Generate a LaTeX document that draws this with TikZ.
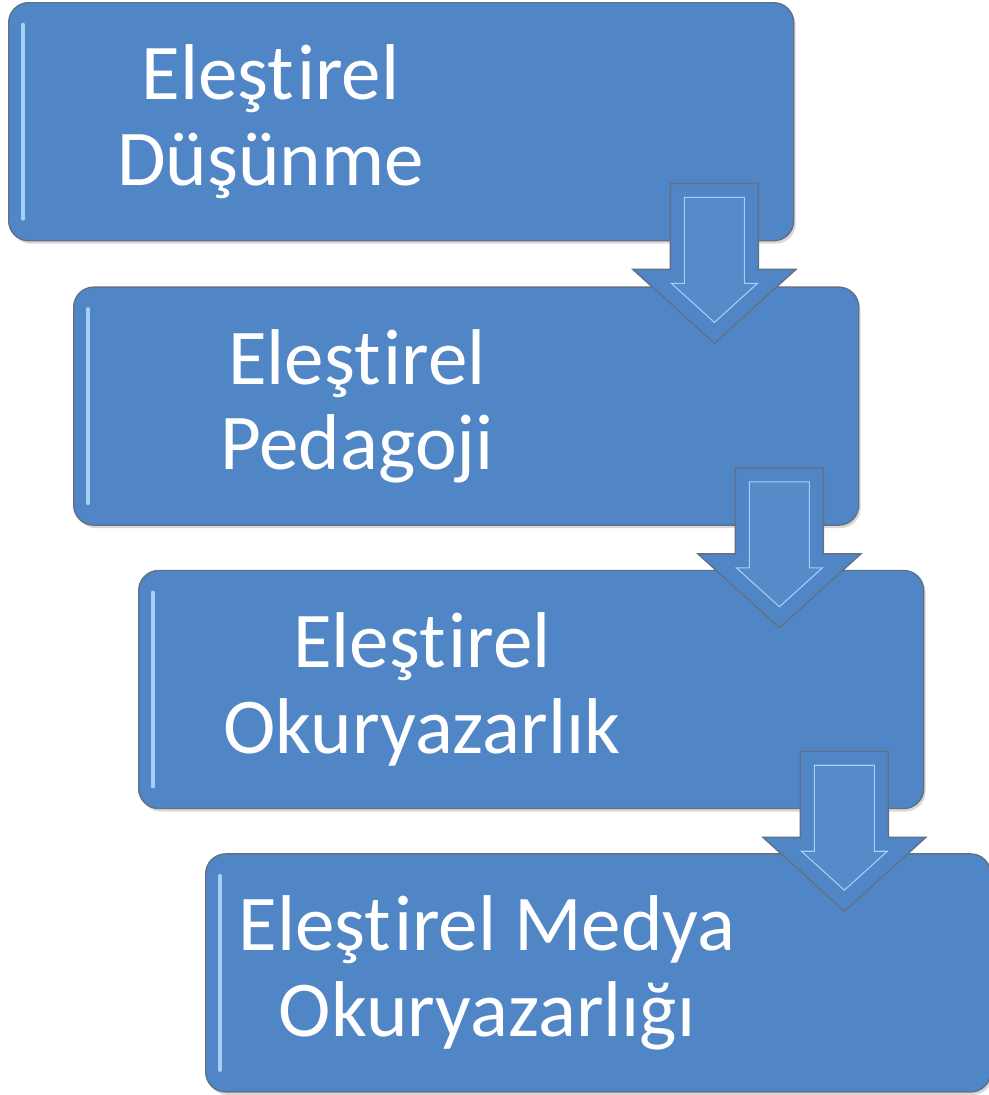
\documentclass[tikz,border=0pt]{standalone}
\usepackage{fontspec}
\setmainfont[Ligatures={NoCommon,NoContextual,NoRare}, Contextuals=NoAlternate]{Carlito}
\usetikzlibrary{calc,positioning,shadows}
\definecolor{boxblue}{RGB}{81,134,198}
\definecolor{edgegray}{RGB}{96,112,135}
\definecolor{shine}{RGB}{165,208,246}
\newcommand{\elestirel}{Eleşt\kern1.5pt irel}
\tikzset{box/.style={rectangle, rounded corners=0.4cm, minimum width=15.7cm, minimum height=4.76cm, fill=boxblue, draw=edgegray, line width=0.8pt, drop shadow={opacity=0.3, shadow xshift=0.04cm, shadow yshift=-0.06cm}}, txt/.style={text=white, align=center, font=\fontsize{45}{48.5}\selectfont}, arw/.style={fill=boxblue, draw=edgegray, line width=0.8pt, line join=miter}, bevel/.style={fill=boxblue!97!white, draw=shine, line width=0.6pt}}

\begin{document}
\begin{tikzpicture}
    \useasboundingbox (0,0) rectangle (19.76,-21.9);
    \node[box, anchor=north west] (b1) at (0.16,-0.04) {};
    \node[box, below right=0.9cm and 1.3cm of b1.south west] (b2) {};
    \node[box, below right=0.88cm and 1.3cm of b2.south west] (b3) {};
    \node[box, below right=0.88cm and 1.34cm of b3.south west] (b4) {};
    \foreach \i in {1,...,4}
        \draw[shine, line width=2pt, line cap=round] ($(b\i.north west)+(0.3,-0.45)$) -- ($(b\i.south west)+(0.3,0.45)$);
    \node[txt] (t1) at ($(b1.west)+(5.25,0)$) {\elestirel\\Düşünme};
    \node[txt] (t2) at ($(b2.west)+(5.68,0)$) {\elestirel\\Pedagoji};
    \node[txt] (t3) at ($(b3.west)+(5.68,0)$) {\elestirel\\Okuryazarlık};
    \node[txt] (t4) at ($(b4.west)+(5.64,0)$) {\elestirel{} Medya\\Okuryazarlığı};
    \foreach \i in {1,2,3} {
        \draw[arw] ($(b\i.south east)+(-1.6,1.16)$) coordinate (a\i) ++(-0.88,0) -- ++(1.76,0) -- ++(0,-1.72) -- ++(0.75,0) -- ++(-1.63,-1.48) -- ++(-1.63,1.48) -- ++(0.75,0) -- cycle;
        \draw[bevel] ($(a\i)+(-0.6,-0.28)$) -- ++(1.2,0) -- ++(0,-1.72) -- ++(0.26,0) -- ++(-0.86,-0.78) -- ++(-0.86,0.78) -- ++(0.26,0) -- cycle;
    }
\end{tikzpicture}
\end{document}
